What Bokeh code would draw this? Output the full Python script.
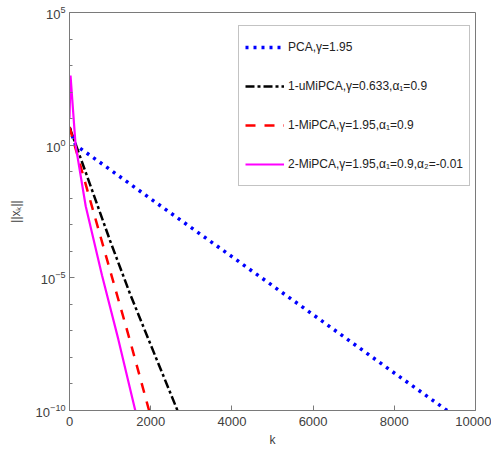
from bokeh.plotting import figure
from bokeh.models import (Range1d, FixedTicker, LogTickFormatter, Legend, LegendItem)
from bokeh.embed import file_html
from bokeh.resources import INLINE

# ---- data ----
k_pca = [0, 150, 1000, 2000, 4000, 6000, 8000, 9300]
x_pca = [4.5, 1.0, 1.2e-1, 9.5e-3, 6.3e-5, 4.1e-7, 2.6e-9, 1e-10]

k_umi = [0, 500, 1000, 1500, 2000, 2660]
x_umi = [4.8, 3.5e-2, 2.5e-4, 2.3e-6, 3.0e-8, 1e-10]

k_mi1 = [0, 500, 1000, 1500, 1960]
x_mi1 = [4.8, 9.5e-3, 1.9e-5, 3.8e-8, 1e-10]

k_mi2 = [0, 25, 150, 400, 800, 1200, 1620]
x_mi2 = [10.0, 420.0, 1.0, 5.0e-3, 1.26e-5, 5.0e-8, 1e-10]

labels = ["PCA,γ=1.95",
          "1-uMiPCA,γ=0.633,α₁=0.9",
          "1-MiPCA,γ=1.95,α₁=0.9",
          "2-MiPCA,γ=1.95,α₁=0.9,α₂=-0.01"]

x_ticks = [0, 2000, 4000, 6000, 8000, 10000]
y_major = [1e-10, 1e-5, 1e0, 1e5]
y_minor = [1e-9, 1e-8, 1e-7, 1e-6, 1e-4, 1e-3, 1e-2, 1e-1, 1e1, 1e2, 1e3, 1e4]

FONT = "Liberation Sans"
AX = "#7a7a7a"
TXT = "#404040"

p = figure(width=491, height=450, y_axis_type="log",
           x_range=Range1d(0, 10000), y_range=Range1d(1e-10, 1e5),
           output_backend="svg", toolbar_location=None,
           min_border_left=69, min_border_right=16, min_border_top=12, min_border_bottom=40)
p.grid.visible = False
p.outline_line_color = AX
p.background_fill_color = "white"

r1 = p.line(k_pca, x_pca, line_color="#0000ff", line_width=3.5, line_dash="3 5")
r2 = p.line(k_umi, x_umi, line_color="black", line_width=2.5, line_dash="9 3 3 3")
r3 = p.line(k_mi1, x_mi1, line_color="#ff0000", line_width=2.5, line_dash="10 9")
r4 = p.line(k_mi2, x_mi2, line_color="#ff00ff", line_width=2.2)

yax = p.yaxis[0]
yax.ticker = FixedTicker(ticks=y_major, minor_ticks=y_minor)
yax.formatter = LogTickFormatter()
yax.axis_label = "||xₖ||"
xax = p.xaxis[0]
xax.ticker = FixedTicker(ticks=x_ticks, minor_ticks=[])
xax.axis_label = "k"

for ax in (xax, yax):
    ax.axis_line_color = AX
    ax.major_tick_line_color = AX
    ax.minor_tick_line_color = AX
    ax.major_tick_in = 5
    ax.major_tick_out = 0
    ax.minor_tick_in = 3
    ax.minor_tick_out = 0
    ax.major_label_text_font = FONT
    ax.major_label_text_font_size = "13px"
    ax.major_label_text_color = TXT
    ax.axis_label_text_font = FONT
    ax.axis_label_text_font_size = "12px"
    ax.axis_label_text_font_style = "normal"
    ax.axis_label_text_color = TXT
xax.major_label_standoff = 6
xax.axis_label_standoff = 4
yax.major_label_standoff = 4
yax.axis_label_standoff = 10

legend = Legend(items=[LegendItem(label=labels[0], renderers=[r1]),
                       LegendItem(label=labels[1], renderers=[r2]),
                       LegendItem(label=labels[2], renderers=[r3]),
                       LegendItem(label=labels[3], renderers=[r4])],
                location=(169, 224))
legend.label_text_font = FONT
legend.label_text_font_size = "12px"
legend.label_text_color = "#222222"
legend.glyph_width = 39
legend.glyph_height = 30
legend.label_height = 30
legend.spacing = 9
legend.padding = 6
legend.margin = 0
legend.label_standoff = 4
legend.border_line_color = "#888888"
legend.background_fill_alpha = 1.0
p.add_layout(legend)

open("out.html", "w").write(file_html(p, INLINE))
